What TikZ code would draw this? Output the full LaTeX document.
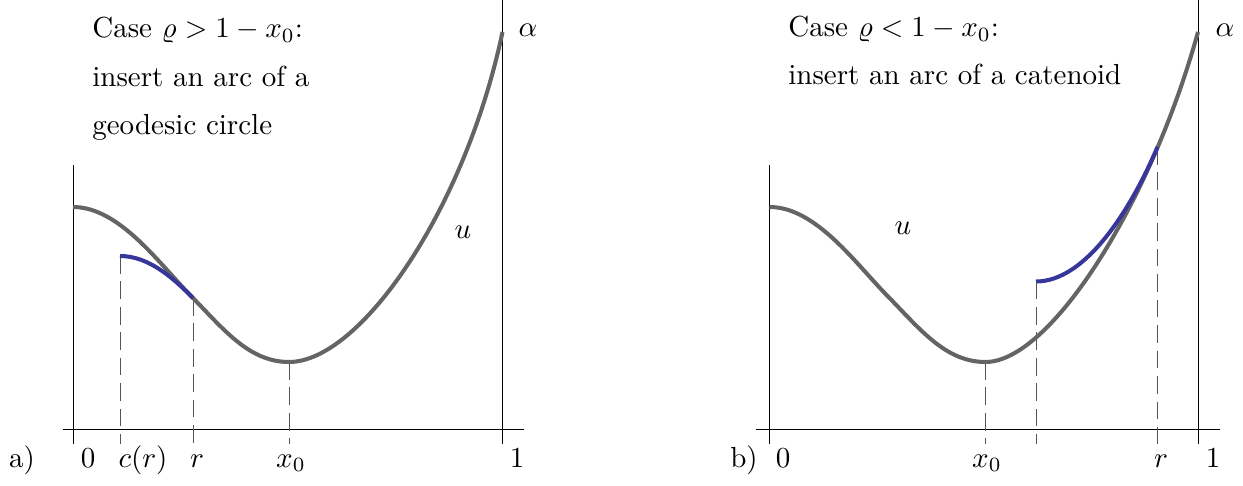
\documentclass[tikz,border=0pt]{standalone}
\usepackage{amsmath}
\usetikzlibrary{positioning, calc}
\definecolor{curvegray}{RGB}{100,100,100}
\definecolor{arcblue}{RGB}{55,55,155}
\definecolor{dashgray}{RGB}{85,85,85}
\newcommand{\labtext}[1]{\scalebox{1.65}{#1}}
\tikzset{
  axisline/.style={line width=0.5pt, color=black},
  graphline/.style={line width=2.3pt, color=curvegray},
  arcline/.style={line width=2.3pt, color=arcblue},
  dashline/.style={line width=0.5pt, color=dashgray, dash pattern=on 10pt off 4.5pt},
  lbl/.style={inner sep=0pt, anchor=base},
  casetext/.style={inner sep=0pt, anchor=base west}
}

\begin{document}
\begin{tikzpicture}
  \useasboundingbox (0,0) rectangle (24.86,9.7);

  % a) geodesic circle
  \coordinate (aO) at (1.46,1.12);
  \coordinate (abot) at (0,0.82);
  \coordinate (astart) at (1.46,5.56);
  \coordinate (ar) at (3.86,3.74);
  \coordinate (ax) at (5.78,2.46);
  \coordinate (aend) at (10.05,9.06);
  \coordinate (ac) at (2.4,4.58);

  \draw [axisline] (1.25,1.12) -- (10.48,1.12);
  \draw [axisline] (aO |- abot) -- (1.46,6.4);
  \draw [axisline] (aend |- abot) -- (10.05,9.7);

  \draw [dashline] (ac) -- (ac |- abot);
  \draw [dashline] (ar) -- (ar |- abot);
  \draw [dashline] (ax) -- (ax |- abot);

  \draw [graphline] (astart) .. controls (2.4,5.56) and (3.2,4.4) .. (ar)
    .. controls (4.5,3.08) and (5.0,2.46) .. (ax)
    .. controls (7.2,2.46) and (9.3,5.5) .. (aend);
  \draw [arcline] (ac) .. controls (3.0,4.58) and (3.5,4.1) .. (ar);

  \node [casetext] (casea1) at (1.84,8.94) {\labtext{Case $\varrho>1-x_0$:}};
  \node [casetext] (casea2) at (1.84,7.96) {\labtext{insert an arc of a}};
  \node [casetext] (casea3) at (1.84,7.0) {\labtext{geodesic circle}};
  \node [lbl] (alpha-a) at (10.56,8.96) {\labtext{$\alpha$}};
  \node [lbl, anchor=center] (u-a) at (9.26,5.06) {\labtext{$u$}};
  \node [lbl] (panel-a) at (0.44,0.36) {\labtext{a)}};
  \node [lbl] (zero-a) at (1.76,0.36) {\labtext{0}};
  \node [lbl] (cr-a) at (2.86,0.36) {\labtext{$c(r)$}};
  \node [lbl] (r-a) at (3.94,0.36) {\labtext{$r$}};
  \node [lbl] (x0-a) at (5.82,0.36) {\labtext{$x_0$}};
  \node [lbl] (one-a) at (10.34,0.36) {\labtext{1}};

  % b) catenoid
  \coordinate (bO) at (15.39,1.12);
  \coordinate (bbot) at (0,0.82);
  \coordinate (bstart) at (15.39,5.56);
  \coordinate (bm) at (17.79,3.74);
  \coordinate (bx) at (19.71,2.46);
  \coordinate (bend) at (23.96,9.06);
  \coordinate (bc) at (20.72,4.07);
  \coordinate (br) at (23.15,6.76);

  \draw [axisline] (15.12,1.12) -- (24.4,1.12);
  \draw [axisline] (bO |- bbot) -- (15.39,6.4);
  \draw [axisline] (bend |- bbot) -- (23.96,9.7);

  \draw [dashline] (bx) -- (bx |- bbot);
  \draw [dashline] (bc) -- (bc |- bbot);
  \draw [dashline] (br) -- (br |- bbot);

  \draw [graphline] (bstart) .. controls (16.33,5.56) and (17.13,4.4) .. (bm)
    .. controls (18.43,3.08) and (18.93,2.46) .. (bx)
    .. controls (21.0,2.46) and (23.0,5.6) .. (bend);
  \draw [arcline] (bc) .. controls (21.7,4.07) and (22.6,5.47) .. (br);

  \node [casetext] (caseb1) at (15.76,8.96) {\labtext{Case $\varrho<1-x_0$:}};
  \node [casetext] (caseb2) at (15.76,8.0) {\labtext{insert an arc of a catenoid}};
  \node [lbl] (alpha-b) at (24.5,8.96) {\labtext{$\alpha$}};
  \node [lbl, anchor=center] (u-b) at (18.06,5.14) {\labtext{$u$}};
  \node [lbl] (panel-b) at (14.88,0.36) {\labtext{b)}};
  \node [lbl] (zero-b) at (15.66,0.36) {\labtext{0}};
  \node [lbl] (x0-b) at (19.74,0.36) {\labtext{$x_0$}};
  \node [lbl] (r-b) at (23.22,0.36) {\labtext{$r$}};
  \node [lbl] (one-b) at (24.26,0.36) {\labtext{1}};
\end{tikzpicture}
\end{document}
